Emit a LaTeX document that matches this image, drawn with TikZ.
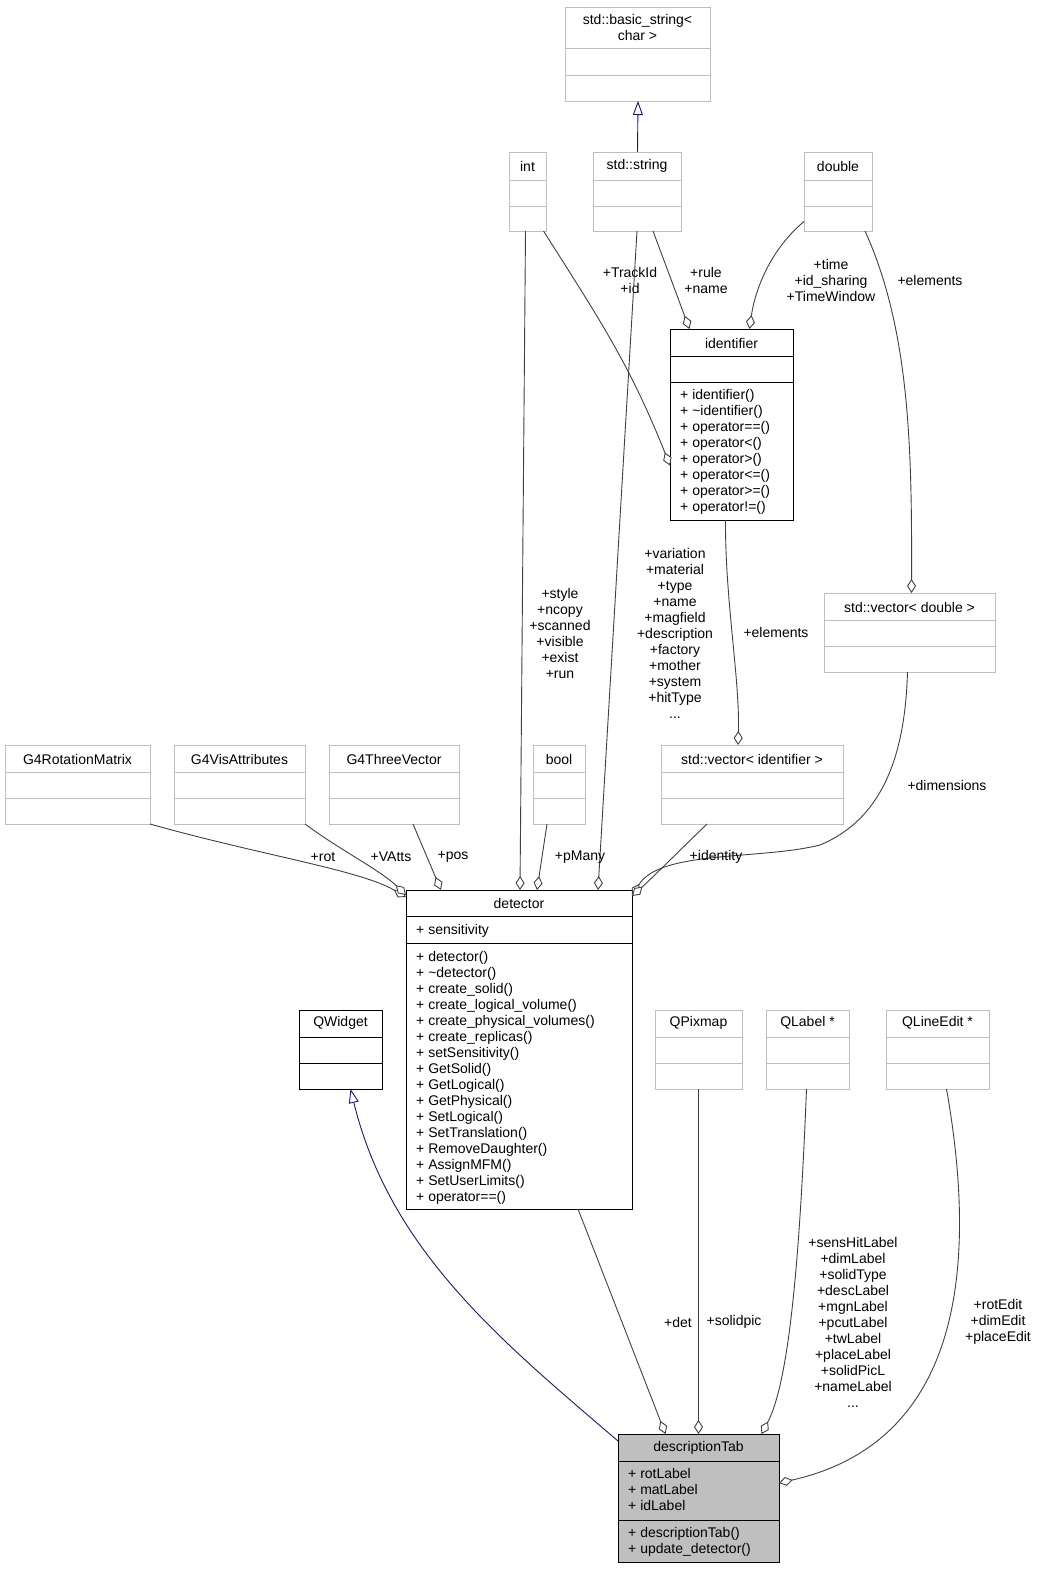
\documentclass[tikz,border=0pt]{standalone}
\usepackage{fontspec}
\setmainfont{Liberation Sans}
\usetikzlibrary{arrows.meta}
\definecolor{bx}{HTML}{BFBFBF}
\definecolor{ed}{HTML}{404040}
\definecolor{nv}{HTML}{191970}
\newcommand\umlbox[6]{\node[draw=#6,line width=0.8pt,inner sep=0,outer sep=0,anchor=north west,minimum width={(#4-#2)*1pt},minimum height={(#5-#3)*1pt}] (#1) at (#2,#3) {};}
\newcommand\hsep[4]{\draw[#4,line width=0.8pt] (#1,#3) -- (#2,#3);}
\begin{document}
\begin{tikzpicture}[x=1pt,y=-1pt,font=\fontsize{14}{16}\selectfont,
 txt/.style={inner sep=0,align=center},
 mem/.style={inner sep=0,align=left,anchor=north west},
 agg/.style={draw=ed,line width=0.9pt,-{Diamond[open,fill=white,length=14,width=9]}},
 inh/.style={draw=nv,line width=0.9pt,-{Triangle[open,fill=white,length=14,width=10]}},
 lab/.style={inner sep=0,align=center}]
\useasboundingbox (0,0) rectangle (1044,1572);
% boxes
\umlbox{bstr}{565}{7}{710}{101}{bx}\hsep{565}{710}{48}{bx}\hsep{565}{710}{75}{bx}
\node[txt] (bstrT) at (637.5,27) {std::basic\_string<\\char >};
\umlbox{int}{509}{152}{546}{231}{bx}\hsep{509}{546}{180}{bx}\hsep{509}{546}{206}{bx}
\node[txt] (intT) at (527.5,166) {int};
\umlbox{str}{593}{152}{681}{231}{bx}\hsep{593}{681}{180}{bx}\hsep{593}{681}{206}{bx}
\node[txt] (strT) at (637,166) {std::string};
\umlbox{dbl}{804}{152}{872}{231}{bx}\hsep{804}{872}{180}{bx}\hsep{804}{872}{206}{bx}
\node[txt] (dblT) at (838,166) {double};
\umlbox{idf}{670}{329}{793}{520}{black}\hsep{670}{793}{356}{black}\hsep{670}{793}{382}{black}
\node[txt] (idfT) at (731.5,343) {identifier};
\node[mem] (idfM) at (680,389) {+ identifier()\\+ \textasciitilde identifier()\\+ operator==()\\+ operator<()\\+ operator>()\\+ operator<=()\\+ operator>=()\\+ operator!=()};
\umlbox{vd}{824}{593}{995}{672}{bx}\hsep{824}{995}{620}{bx}\hsep{824}{995}{646}{bx}
\node[txt] (vdT) at (909.5,607) {std::vector< double >};
\umlbox{rm}{5}{745}{150}{824}{bx}\hsep{5}{150}{772}{bx}\hsep{5}{150}{798}{bx}
\node[txt] (rmT) at (77.5,759) {G4RotationMatrix};
\umlbox{va}{174}{745}{305}{824}{bx}\hsep{174}{305}{772}{bx}\hsep{174}{305}{798}{bx}
\node[txt] (vaT) at (239.5,759) {G4VisAttributes};
\umlbox{tv}{329}{745}{459}{824}{bx}\hsep{329}{459}{772}{bx}\hsep{329}{459}{798}{bx}
\node[txt] (tvT) at (394,759) {G4ThreeVector};
\umlbox{bool}{533}{745}{585}{824}{bx}\hsep{533}{585}{772}{bx}\hsep{533}{585}{798}{bx}
\node[txt] (boolT) at (559,759) {bool};
\umlbox{vi}{661}{745}{843}{824}{bx}\hsep{661}{843}{772}{bx}\hsep{661}{843}{798}{bx}
\node[txt] (viT) at (752,759) {std::vector< identifier >};
\umlbox{det}{406}{890}{632}{1209}{black}\hsep{406}{632}{916}{black}\hsep{406}{632}{943}{black}
\node[txt] (detT) at (519,903) {detector};
\node[mem] (detA) at (416,924) {+ sensitivity};
\node[mem] (detM) at (416,951) {+ detector()\\+ \textasciitilde detector()\\+ create\_solid()\\+ create\_logical\_volume()\\+ create\_physical\_volumes()\\+ create\_replicas()\\+ setSensitivity()\\+ GetSolid()\\+ GetLogical()\\+ GetPhysical()\\+ SetLogical()\\+ SetTranslation()\\+ RemoveDaughter()\\+ AssignMFM()\\+ SetUserLimits()\\+ operator==()};
\umlbox{qw}{299}{1010}{382}{1089}{black}\hsep{299}{382}{1037}{black}\hsep{299}{382}{1063}{black}
\node[txt] (qwT) at (340.5,1023) {QWidget};
\umlbox{qp}{655}{1010}{742}{1089}{bx}\hsep{655}{742}{1037}{bx}\hsep{655}{742}{1063}{bx}
\node[txt] (qpT) at (698.5,1023) {QPixmap};
\umlbox{ql}{766}{1010}{849}{1089}{bx}\hsep{766}{849}{1037}{bx}\hsep{766}{849}{1063}{bx}
\node[txt] (qlT) at (807.5,1023) {QLabel *};
\umlbox{qe}{886}{1010}{989}{1089}{bx}\hsep{886}{989}{1037}{bx}\hsep{886}{989}{1063}{bx}
\node[txt] (qeT) at (937.5,1023) {QLineEdit *};
\fill[bx] (618,1434) rectangle (779,1562);
\umlbox{dt}{618}{1434}{779}{1562}{black}\hsep{618}{779}{1461}{black}\hsep{618}{779}{1520}{black}
\node[txt] (dtT) at (698.5,1448) {descriptionTab};
\node[mem] (dtA) at (628,1468) {+ rotLabel\\+ matLabel\\+ idLabel};
\node[mem] (dtM) at (628,1527) {+ descriptionTab()\\+ update\_detector()};
% edges
\draw[inh] ([xshift=0.5pt]str.north) -- ([xshift=0.5pt]bstr.south);
\draw[agg] ([xshift=16pt]int.south) .. controls (600,320) and (630,365) .. ([yshift=-41pt]idf.west);
\node[lab] at (630,280) {+TrackId\\+id};
\draw[agg] ([xshift=16pt]str.south) -- ([xshift=-42pt]idf.north);
\node[lab] at (706,280) {+rule\\+name};
\draw[agg] ([yshift=-30pt]dbl.west) .. controls (770,250) and (755,290) .. ([xshift=18pt]idf.north);
\node[lab] at (831,280) {+time\\+id\_sharing\\+TimeWindow};
\draw[agg] ([xshift=27pt]dbl.south) .. controls (910,330) and (912,450) .. ([xshift=2pt]vd.north);
\node[lab] at (930,280) {+elements};
\draw[agg] ([xshift=-2pt]int.south) -- ([xshift=1pt]det.north);
\node[lab] at (560,633) {+style\\+ncopy\\+scanned\\+visible\\+exist\\+run};
\draw[agg] ([xshift=0pt]str.south) -- ([xshift=79pt]det.north);
\node[lab] at (675,633) {+variation\\+material\\+type\\+name\\+magfield\\+description\\+factory\\+mother\\+system\\+hitType\\...};
\draw[agg] ([xshift=-6pt]idf.south) .. controls (725,600) and (740,680) .. ([xshift=-14pt]vi.north);
\node[lab] at (776,632) {+elements};
\draw[agg] ([xshift=-2pt]vd.south) .. controls (905,760) and (880,820) .. (820,845) .. controls (760,860) and (660,850) .. ([yshift=-6pt]det.north east);
\node[lab] at (947,785) {+dimensions};
\draw[agg] (rm.south east) .. controls (260,855) and (360,870) .. ([yshift=-7pt]det.north west);
\node[lab] at (323,857) {+rot};
\draw[agg] (va.south east) .. controls (340,850) and (380,870) .. ([yshift=-5pt]det.north west);
\node[lab] at (391,857) {+VAtts};
\draw[agg] ([xshift=19pt]tv.south) -- ([xshift=-78pt]det.north);
\node[lab] at (453,857) {+pos};
\draw[agg] ([xshift=-12pt]bool.south) -- ([xshift=18pt]det.north);
\node[lab] at (580,857) {+pMany};
\draw[agg] ([xshift=-45pt]vi.south) .. controls (680,850) and (650,880) .. ([yshift=-6pt]det.north east);
\node[lab] at (716,857) {+identity};
\coordinate (dtw) at ([yshift=-7pt]dt.north west);
\draw[inh] (dtw) .. controls (500,1340) and (390,1250) .. ([xshift=10pt]qw.south);
\draw[agg] ([xshift=59pt]det.south) -- ([xshift=-33pt]dt.north);
\node[lab] at (678,1322) {+det};
\draw[agg] (qp.south) -- ([xshift=0pt]dt.north);
\node[lab] at (734,1322) {+solidpic};
\draw[agg] ([xshift=-1pt]ql.south) .. controls (800,1250) and (790,1380) .. ([xshift=63pt]dt.north);
\node[lab] at (853,1322) {+sensHitLabel\\+dimLabel\\+solidType\\+descLabel\\+mgnLabel\\+pcutLabel\\+twLabel\\+placeLabel\\+solidPicL\\+nameLabel\\...};
\draw[agg] ([xshift=9pt]qe.south) .. controls (975,1250) and (970,1440) .. ([yshift=-49pt]dt.north east);
\node[lab] at (998,1322) {+rotEdit\\+dimEdit\\+placeEdit};
\end{tikzpicture}
\end{document}
